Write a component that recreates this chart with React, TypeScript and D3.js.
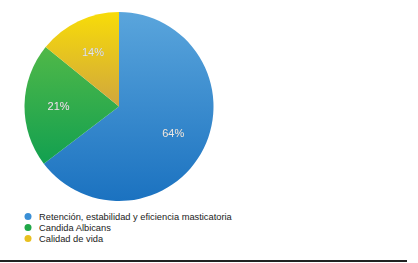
import React from "react";
import * as d3 from "d3";

const categories = [
  "Retención, estabilidad y eficiencia masticatoria",
  "Candida Albicans",
  "Calidad de vida",
];
const values = [64, 21, 14];
const labels = ["64%", "21%", "14%"];
const colorsTop = ["#5aa5dc", "#50b848", "#f8dc08"];
const colorsBottom = ["#1b72c0", "#12a050", "#d0a63e"];
const legendColors = ["#3a8fd6", "#20a848", "#e8c020"];

export default function App() {
  const width = 418;
  const height = 263;
  const cx = 119;
  const cy = 106.5;
  const R = 94.5;

  const pie = d3.pie<number>().sort(null).value((d) => d)(values);
  const arc = d3.arc<d3.PieArcDatum<number>>().innerRadius(0).outerRadius(R);
  const labelArc = d3
    .arc<d3.PieArcDatum<number>>()
    .innerRadius(R * 0.64)
    .outerRadius(R * 0.64);

  const legendY = d3.scaleLinear().domain([0, 1]).range([216.5, 227.5]);

  return (
    <svg
      width={width}
      height={height}
      style={{ position: "absolute", left: 0, top: 0, background: "#fff" }}
    >
      <defs>
        {values.map((_, i) => (
          <linearGradient key={i} id={`g${i}`} x1={0} y1={0} x2={0} y2={1}>
            <stop offset="0%" stopColor={colorsTop[i]} />
            <stop offset="100%" stopColor={colorsBottom[i]} />
          </linearGradient>
        ))}
        <filter id="ts" x="-20%" y="-20%" width="140%" height="140%">
          <feDropShadow dx="0" dy="0" stdDeviation="0.6" floodColor="#000" floodOpacity="0.6" />
        </filter>
      </defs>
      <g transform={`translate(${cx},${cy})`}>
        {pie.map((p, i) => (
          <path key={i} d={arc(p) || ""} fill={`url(#g${i})`} />
        ))}
        {pie.map((p, i) => {
          const [x, y] = labelArc.centroid(p);
          return (
            <text
              key={i}
              x={x}
              y={y}
              textAnchor="middle"
              dominantBaseline="central"
              fontFamily="Liberation Sans, Arial, sans-serif"
              fontSize={11}
              fill="#e8e8e8"
              filter="url(#ts)"
            >
              {labels[i]}
            </text>
          );
        })}
      </g>
      {categories.map((c, i) => (
        <g key={c}>
          <circle cx={28} cy={legendY(i)} r={3.5} fill={legendColors[i]} />
          <text
            x={39}
            y={legendY(i)}
            dominantBaseline="central"
            fontFamily="Liberation Sans, Arial, sans-serif"
            fontSize={9.3}
            fill="#222"
          >
            {c}
          </text>
        </g>
      ))}
      <rect x={0} y={260} width={407} height={2} fill="#222" />
    </svg>
  );
}
